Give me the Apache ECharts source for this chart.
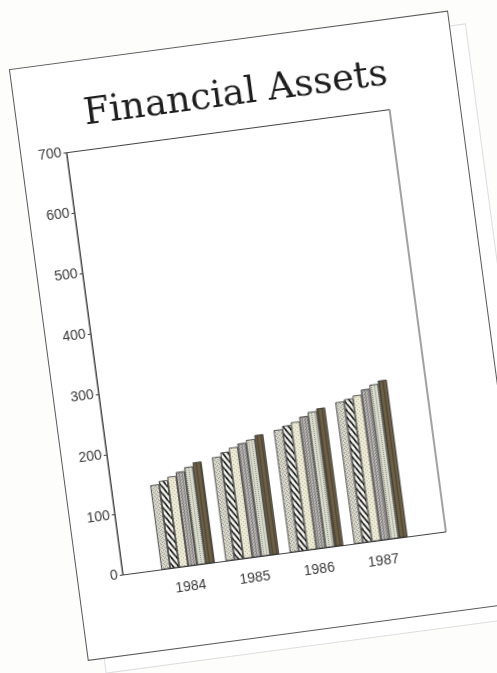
<!DOCTYPE html>
<html>
<head>
<meta charset="utf-8">
<script src="https://cdn.jsdelivr.net/npm/echarts@6/dist/echarts.min.js"></script>
<style>
  html, body { margin: 0; padding: 0; width: 497px; height: 673px; overflow: hidden; background: #fdfdfc; }
  /* the sheet sits slightly turned on the page */
  .sheet { position: absolute; left: 10px; top: 70px; width: 441px; height: 595px;
           transform-origin: 0 0; transform: rotate(-7.6deg); }
  .under { position: absolute; left: 16px; top: 15px; width: 441px; height: 595px;
           background: #fff; outline: 1px solid #dedede; }
  .paper { position: absolute; left: 0; top: 0; width: 441px; height: 595px;
           background: #fff; outline: 1px solid #5a5a5a; }
  #chart { position: absolute; left: 0; top: 0; width: 441px; height: 595px; }
</style>
</head>
<body>
<div class="sheet">
  <div class="under"></div>
  <div class="paper"><div id="chart"></div></div>
</div>
<script>
// Years on the category axis
const years = ['1984', '1985', '1986', '1987'];
// Value axis range and step
const yMin = 0;
const yMax = 700;
const yStep = 100;
// Six asset series, one value per year
const assetA = [140, 172, 203, 235];
const assetB = [145, 178, 208, 238];
const assetC = [150, 184, 212, 242];
const assetD = [156, 189, 219, 250];
const assetE = [162, 193, 225, 256];
const assetF = [168, 199, 229, 261];

// Small repeating fill tiles for the bar textures
function tile(w, h, bg, draw) {
  const c = document.createElement('canvas');
  c.width = w; c.height = h;
  const g = c.getContext('2d');
  g.fillStyle = bg;
  g.fillRect(0, 0, w, h);
  draw(g);
  return { image: c, repeat: 'repeat' };
}
function dots(g, col, pts) {
  g.fillStyle = col;
  pts.forEach(p => g.fillRect(p[0], p[1], 1, 1));
}

const fillSpeckle = tile(4, 4, '#dcdbd0', g => dots(g, '#95948a', [[0,0],[2,1],[1,3],[3,2]]));
const fillHatch = tile(5, 8, '#f4f4ee', g => {
  g.strokeStyle = '#151515';
  g.lineWidth = 1.7;
  [[-5,0],[0,0],[5,0]].forEach(o => {
    g.beginPath(); g.moveTo(o[0], o[1]); g.lineTo(o[0] + 5, o[1] + 8); g.stroke();
  });
});
const fillCream = tile(4, 4, '#edebd6', g => dots(g, '#b7b49c', [[1,0],[3,2]]));
const fillGrey = tile(3, 3, '#aca8a4', g => {
  dots(g, '#7e7888', [[0,0],[0,1],[2,2]]);
  dots(g, '#c2c4aa', [[1,1],[2,0]]);
});
const fillPale = tile(3, 2, '#d8dacb', g => dots(g, '#929486', [[1,0]]));
const fillDark = tile(4, 2, '#665a42', g => {
  dots(g, '#514733', [[0,0],[0,1]]);
  dots(g, '#76694f', [[2,0]]);
});

const seriesData = [assetA, assetB, assetC, assetD, assetE, assetF];
const seriesFill = [fillSpeckle, fillHatch, fillCream, fillGrey, fillPale, fillDark];

const chart = echarts.init(document.getElementById('chart'), null, { renderer: 'canvas' });

const labelFont = { fontFamily: 'Liberation Sans', fontSize: 14, color: '#3a3a3a' };

chart.setOption({
  animation: false,
  backgroundColor: 'transparent',
  title: {
    text: 'Financial Assets',
    left: 'center',
    top: 31,
    textStyle: { fontFamily: 'DejaVu Serif', fontSize: 37, fontWeight: 'normal', color: '#1e1e1e' }
  },
  grid: [
    { left: 45, top: 89.5, width: 326, height: 426, show: true, borderColor: '#444', borderWidth: 1, backgroundColor: 'transparent' },
    { left: 78.6, top: 89.5, width: 259.2, height: 426 }
  ],
  xAxis: [
    { gridIndex: 0, type: 'value', min: 0, max: 1, show: false },
    {
      gridIndex: 1, type: 'category', data: years,
      axisLine: { show: false }, axisTick: { show: false },
      axisLabel: Object.assign({ margin: 14 }, labelFont)
    }
  ],
  yAxis: [
    {
      gridIndex: 0, type: 'value', min: yMin, max: yMax, interval: yStep,
      axisLine: { show: true, lineStyle: { color: '#444', width: 1 } },
      axisTick: { show: true, length: 3, lineStyle: { color: '#444' } },
      splitLine: { show: false },
      axisLabel: Object.assign({ margin: 5 }, labelFont)
    },
    { gridIndex: 1, type: 'value', min: yMin, max: yMax, show: false }
  ],
  series: seriesData.map((d, i) => ({
    type: 'bar',
    xAxisIndex: 1,
    yAxisIndex: 1,
    data: d,
    barWidth: 9,
    barGap: '0%',
    itemStyle: { color: seriesFill[i], borderColor: '#2c2c2c', borderWidth: 0.8 }
  }))
});
</script>
</body>
</html>
